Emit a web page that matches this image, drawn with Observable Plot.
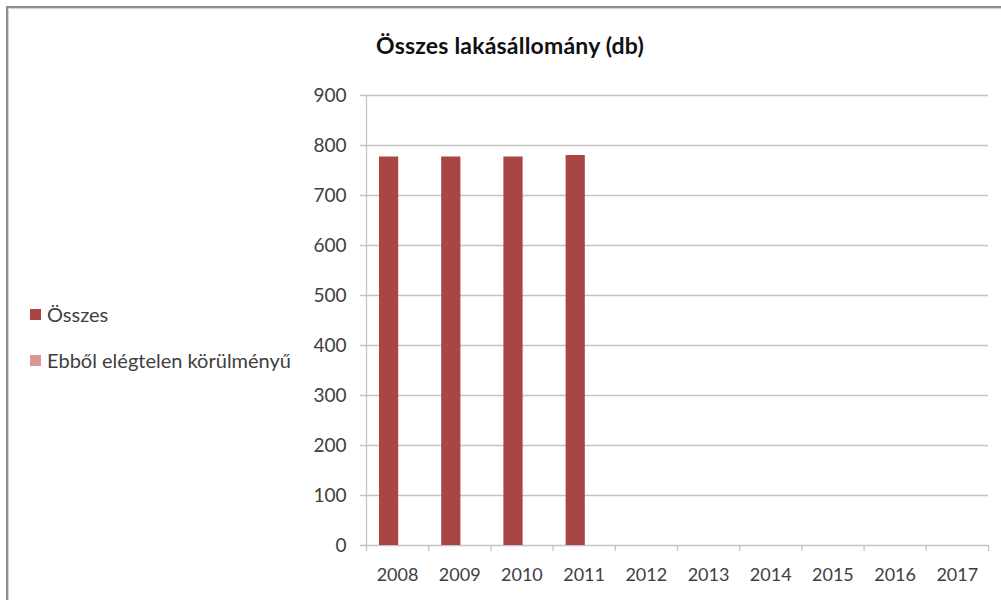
<!DOCTYPE html>
<html>
<head>
<meta charset="utf-8">
<script src="https://cdn.jsdelivr.net/npm/d3@7"></script>
<script src="https://cdn.jsdelivr.net/npm/@observablehq/plot@0.6"></script>
<style>
  html, body { margin: 0; padding: 0; background: #fff; }
  #wrap { position: relative; width: 1001px; height: 600px; overflow: hidden; font-family: Lato, "Liberation Sans", sans-serif; }
  #frame { position: absolute; left: 6px; top: 6px; width: 1100px; height: 700px;
           border-left: 2px solid #8f8f8f; border-top: 2px solid #8f8f8f;
           box-shadow: inset 1px 1px 0 #d4d4d4; }
  #chart { position: absolute; left: 0; top: 0; }
  #title { position: absolute; left: 0; width: 1020px; top: 31px; text-align: center;
           font-weight: bold; font-size: 23px; color: #111; letter-spacing: 0.2px; }
  .leg { position: absolute; left: 30px; font-size: 20px; color: #404040; display: flex; align-items: center; }
  .leg span.sw { display: inline-block; width: 11px; height: 11px; margin-right: 6px; }
</style>
</head>
<body>
<div id="wrap">
  <div id="frame"></div>
  <div id="chart"></div>
  <div id="title">Összes lakásállomány (db)</div>
  <div id="legend"></div>
</div>
<script>
const years = [2008, 2009, 2010, 2011, 2012, 2013, 2014, 2015, 2016, 2017];
const osszes = [777, 777, 777, 780, null, null, null, null, null, null];
const elegtelen = [null, null, null, null, null, null, null, null, null, null];
const seriesNames = ["Összes", "Ebből elégtelen körülményű"];
const seriesColors = ["#a94543", "#d99694"];
const yTicks = [0, 100, 200, 300, 400, 500, 600, 700, 800, 900];

const rows1 = years.map((y, i) => ({year: y, value: osszes[i]})).filter(d => d.value != null);
const rows2 = years.map((y, i) => ({year: y, value: elegtelen[i]})).filter(d => d.value != null);
const boundaries = years.concat([years[years.length - 1] + 1]);

const grid = "#c4c4c4";
const txt = "#404040";

const chart = Plot.plot({
  width: 1001,
  height: 600,
  marginLeft: 366,
  marginRight: 13,
  marginTop: 95,
  marginBottom: 55,
  style: {fontFamily: "Lato, 'Liberation Sans', sans-serif", fontSize: "18px", background: "transparent"},
  x: {type: "linear", domain: [years[0], years[years.length - 1] + 1], axis: null, label: null},
  y: {domain: [0, 900], axis: null, label: null},
  marks: [
    Plot.ruleY(yTicks, {stroke: grid, strokeWidth: 1.3, insetLeft: -6}),
    Plot.ruleX([years[0]], {stroke: grid, strokeWidth: 1.3}),
    Plot.axisY(yTicks, {tickSize: 0, tickPadding: 20, fill: txt, fontSize: 19, label: null, tickFormat: d => String(d)}),
    Plot.axisX(boundaries, {tickSize: 6, stroke: grid, strokeWidth: 1.3, label: null, tickFormat: () => ""}),
    Plot.axisX(years, {tickSize: 0, tickPadding: 23, dx: 31, fill: txt, fontSize: 18, label: null, tickFormat: d => String(d)}),
    Plot.rectY(rows1, {x: "year", y: "value", interval: 1, fill: seriesColors[0], insetLeft: 13, insetRight: 30}),
    Plot.rectY(rows2, {x: "year", y: "value", interval: 1, fill: seriesColors[1], insetLeft: 32, insetRight: 11})
  ]
});
document.getElementById("chart").appendChild(chart);

const legend = document.getElementById("legend");
const legTops = [302, 348];
seriesNames.forEach((name, i) => {
  const el = document.createElement("div");
  el.className = "leg";
  el.style.top = legTops[i] + "px";
  el.innerHTML = `<span class="sw" style="background:${seriesColors[i]}"></span>${name}`;
  legend.appendChild(el);
});
</script>
</body>
</html>
